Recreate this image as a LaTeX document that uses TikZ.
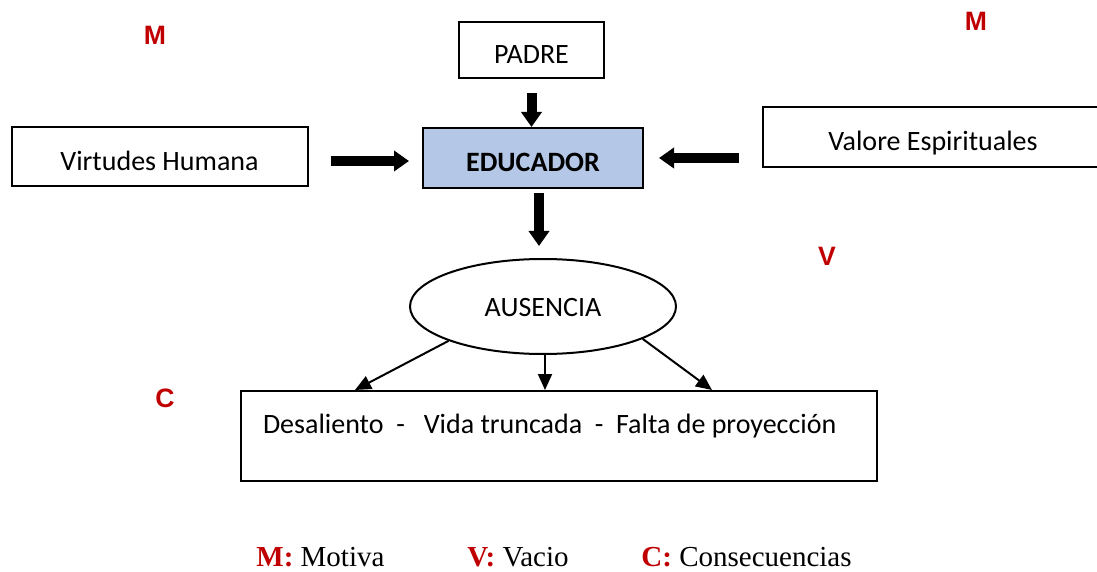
\documentclass[tikz,border=0pt]{standalone}
\usepackage{fontspec}
\setmainfont{Carlito}
\newfontfamily\legendfont{Liberation Serif}
\newfontfamily\letterfont{Liberation Sans}
\usetikzlibrary{arrows.meta,shapes.geometric}
\definecolor{educblue}{RGB}{180,199,231}
\definecolor{letterred}{RGB}{192,0,0}
\tikzset{
    box/.style = {
        draw,
        line width=1pt,
        inner sep=0pt,
        text height=13.5pt,
        text depth=0pt,
        font=\fontsize{14}{17}\selectfont,
        },
    main box/.style = {
        box,
        fill = educblue,
        font=\fontsize{14}{17}\selectfont\bfseries,
        },
    big arrow/.style = {
        line width=5pt,
        -{Triangle[width=10pt,length=7.5pt]},
        },
    thin arrow/.style = {
        line width=1pt,
        -{Triangle[width=7pt,length=8pt]},
        },
    letter/.style = {
        text = letterred,
        font=\letterfont\bfseries\fontsize{13.3}{16}\selectfont,
        inner sep=0pt,
        },
    legend/.style = {
        font=\legendfont\fontsize{14.5}{17}\selectfont,
        inner sep=0pt,
        anchor=base west,
        },
}

\begin{document}
\begin{tikzpicture}[x=0.5pt, y=-0.5pt]
            \useasboundingbox (0,0) rectangle (1097,572);
            \node[box, minimum width=72.5pt, minimum height=28pt] (padre) at (531.5,50) {PADRE};
            \node[main box, minimum width=110pt, minimum height=30pt] (educador) at (533,158) {EDUCADOR};
            \node[box, minimum width=148pt, minimum height=29.5pt] (virtudes) at (159.5,157) {Virtudes Humana};
            \node[box, minimum width=170pt, minimum height=30pt] (valores) at (933,137) {Valore Espirituales};
            \node[box, ellipse, text height=9.5pt, minimum width=133pt, minimum height=47.5pt] (ausencia) at (543,306.5) {AUSENCIA};
            \node[box, minimum width=318pt, minimum height=45pt] (efectos) at (559,436) {};
            \node[box, draw=none, anchor=base west] (efectos text) at (262,433)
                {Desaliento\ \ -\ \ \ Vida truncada\ \ -\ \ Falta de proyección};

            % letras
            \node[letter] (m1) at (155,35) {M};
            \node[letter] (m2) at (976,21) {M};
            \node[letter] (v) at (827,256) {V};
            \node[letter] (c) at (165,398) {C};

            % flechas gruesas
            \draw[big arrow, shorten <=7pt] (padre.south) -- (padre.south |- educador.north);
            \draw[big arrow, shorten <=11pt, shorten >=6.5pt] ([yshift=-2pt]virtudes.east) -- ([yshift=-1.5pt]educador.west);
            \draw[big arrow, shorten <=11.5pt, shorten >=7.5pt] (valores.west |- educador.east) -- (educador.east);
            \draw[big arrow, shorten <=2pt, shorten >=6pt] ([xshift=3pt]educador.south) -- ([xshift=3pt]educador.south |- ausencia.north);

            \draw[thin arrow] (ausencia.200) -- ([xshift=-102pt]efectos.north);
            \draw[thin arrow] ([xshift=1pt]ausencia.south) -- ([xshift=-7pt]efectos.north);
            \draw[thin arrow] (ausencia.-18) -- ([xshift=76.5pt]efectos.north);

            % leyenda
            \node[legend] (leg m) at (256,566) {\textbf{\textcolor{letterred}{M:}} Motiva};
            \node[legend] (leg v) at (467,566) {\textbf{\textcolor{letterred}{V:}} Vacio};
            \node[legend] (leg c) at (641,566) {\textbf{\textcolor{letterred}{C:}} Consecuencias};
        \end{tikzpicture}
\end{document}
